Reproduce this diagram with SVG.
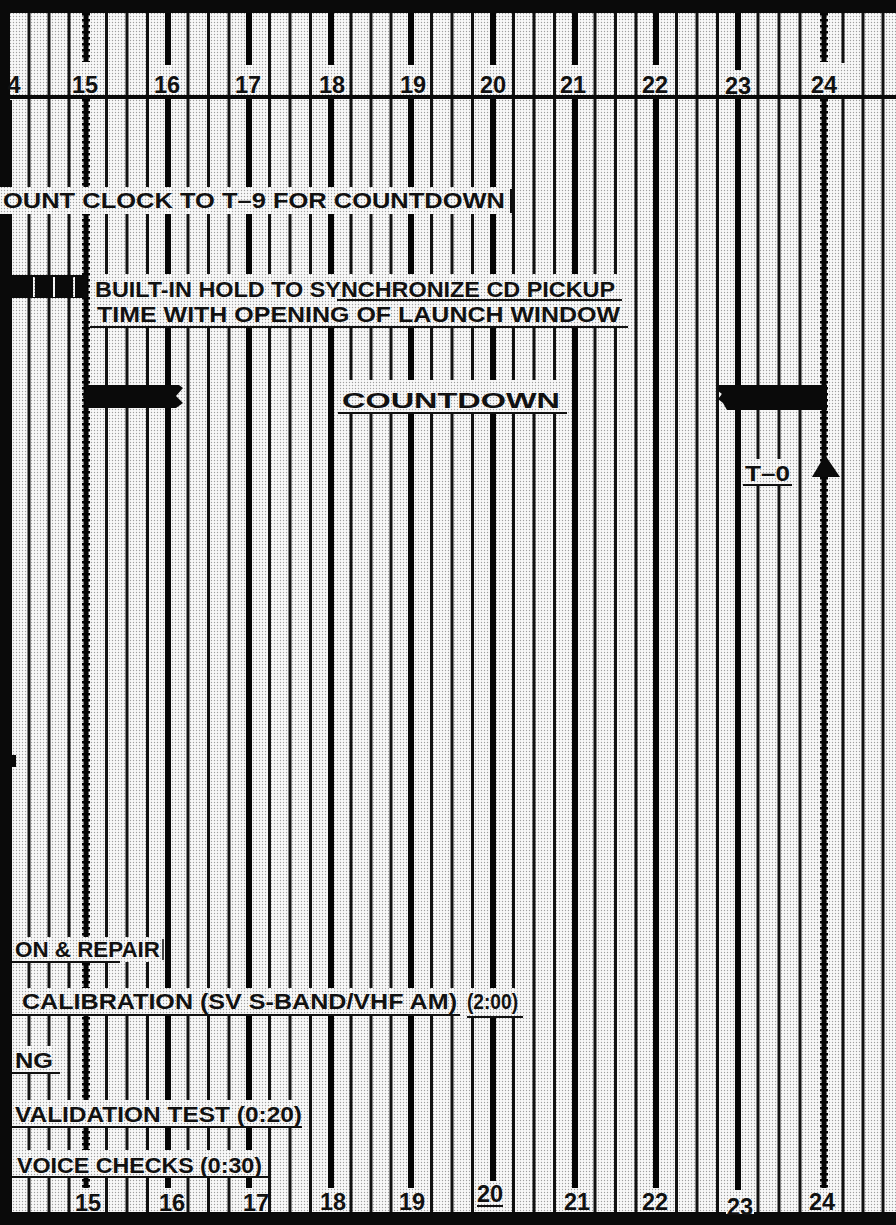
<svg xmlns="http://www.w3.org/2000/svg" width="896" height="1225" viewBox="0 0 896 1225">
<defs>
<pattern id="bg" width="3" height="3" patternUnits="userSpaceOnUse">
<rect width="3" height="3" fill="#f9f9f9"/>
<circle cx="1.5" cy="1.5" r="0.7" fill="#a0a0a0"/>
</pattern>
</defs>
<style>
.thin{stroke:#111;stroke-width:3;fill:none}
.major{stroke:#050505;stroke-width:6;fill:none}
.wavyA{stroke:#050505;stroke-width:5;fill:none}
.wavyB{stroke:#050505;stroke-width:8;stroke-dasharray:2.5 3.5;fill:none}
.box{fill:url(#bg)}
.ul{stroke:#111;stroke-width:2;fill:none}
.t{font-family:"Liberation Sans","DejaVu Sans",Arial,sans-serif;fill:#111;font-size:21.5px;font-weight:bold}
.num{font-family:"Liberation Sans","DejaVu Sans",Arial,sans-serif;fill:#111;font-size:23.5px;font-weight:bold;text-anchor:middle}
.blk{fill:#0a0a0a}
</style>
<rect x="0" y="0" width="896" height="1225" fill="url(#bg)"/>

<g id="grid">
<path class="thin" d="M29 13V95M49 13V95M69 13V95M106.5 13V95M127 13V95M147.5 13V95M188 13V95M208.5 13V95M229 13V95M269.5 13V95M290 13V95M310.5 13V95M351 13V95M371 13V95M391 13V95M431.5 13V95M452 13V95M472.5 13V95M513.5 13V95M534 13V95M554.5 13V95M595 13V95M615.5 13V95M636 13V95M676.5 13V95M697 13V95M717.5 13V95M758 13V95M779 13V95M800 13V95M843 13V63M863 13V95M883 13V95"/>
<path class="thin" d="M29 99V1212M49 99V1212M69 99V1212M106.5 99V1212M127 99V1212M147.5 99V1212M188 99V1212M208.5 99V1212M229 99V1212M269.5 99V1212M290 99V1212M310.5 99V1212M351 99V1212M371 99V1212M391 99V1212M431.5 99V1212M452 99V1212M472.5 99V1212M513.5 99V1212M534 99V1212M554.5 99V1212M595 99V1212M615.5 99V1212M636 99V1212M676.5 99V1212M697 99V1212M717.5 99V1212M758 99V1212M779 99V1212M800 99V1212M843 99V1212M863 99V1212M883 99V1212"/>
<path class="major" d="M168 13V65M249 13V65M331 13V65M411 13V65M493 13V65M575 13V65M656 13V65M738 13V70M168 99V1188M249 99V1188M331 99V1188M411 99V1188M493 99V1185M575 99V1188M656 99V1188M738 99V1190"/>
<path class="wavyA" d="M86 13V62M86 99V1188M824 13V62M824 99V1188"/>
<path class="wavyB" d="M86 13V62M86 99V1188M824 13V62M824 99V1188"/>
<line x1="0" y1="97" x2="896" y2="97" stroke="#0a0a0a" stroke-width="4"/>
</g>

<g id="frame">
<rect class="blk" x="0" y="0" width="896" height="13"/>
<rect class="blk" x="0" y="1212" width="896" height="13"/>
<rect class="blk" x="0" y="0" width="10" height="1225"/>
<rect class="blk" x="0" y="100" width="12" height="1125"/>
<rect class="blk" x="10" y="755" width="6" height="12"/>
</g>

<g id="top-scale">
<text class="num" x="14" y="93">4</text>
<text class="num" x="85" y="93">15</text>
<text class="num" x="167" y="93">16</text>
<text class="num" x="248" y="93">17</text>
<text class="num" x="332" y="93">18</text>
<text class="num" x="413" y="93">19</text>
<text class="num" x="493" y="93">20</text>
<text class="num" x="573" y="93">21</text>
<text class="num" x="655" y="93">22</text>
<text class="num" x="738" y="94">23</text>
<text class="num" x="824" y="93">24</text>
</g>

<g id="count-clock">
<rect class="box" x="0" y="187" width="511" height="27"/>
<line x1="511" y1="189" x2="511" y2="213" stroke="#111" stroke-width="2"/>
<text class="t" x="3" y="208" textLength="502" lengthAdjust="spacingAndGlyphs">OUNT CLOCK TO T–9 FOR COUNTDOWN</text>
</g>

<g id="hold-bar">
<rect class="blk" x="11" y="275" width="76" height="23"/>
<rect class="box" x="33" y="277" width="2" height="20"/>
<rect class="box" x="53" y="277" width="2" height="20"/>
<rect class="box" x="73" y="277" width="2" height="20"/>
</g>

<g id="built-in-hold">
<rect class="box" x="90" y="274" width="535" height="53"/>
<text class="t" x="95" y="297" font-size="23.5" textLength="520" lengthAdjust="spacingAndGlyphs">BUILT-IN HOLD TO SYNCHRONIZE CD PICKUP</text>
<text class="t" x="97" y="322" font-size="23.5" textLength="523" lengthAdjust="spacingAndGlyphs">TIME WITH OPENING OF LAUNCH WINDOW</text>
<line class="ul" x1="337" y1="300" x2="622" y2="300" stroke-width="1.5"/>
<line class="ul" x1="90" y1="327" x2="628" y2="327"/>
</g>

<g id="countdown-start">
<path class="blk" d="M84 385L179 385L183 388L176 396L183 403L176 408L84 408L86 402L83 397L86 391Z"/>
</g>

<g id="countdown">
<rect class="box" x="336" y="380" width="235" height="33"/>
<text class="t" x="342" y="408" font-size="29.5" textLength="218" lengthAdjust="spacingAndGlyphs">COUNTDOWN</text>
<line class="ul" x1="338" y1="413" x2="567" y2="413"/>
</g>

<g id="countdown-end">
<path class="blk" d="M719 385L827 385L827 410L727 410L723 403L718 399L722 394L718 391Z"/>
</g>

<g id="t-zero">
<rect class="box" x="741" y="459" width="52" height="25"/>
<text class="t" x="745" y="481" font-size="24" textLength="45" lengthAdjust="spacingAndGlyphs">T–0</text>
<line class="ul" x1="743" y1="485" x2="792" y2="485"/>
<path class="blk" d="M825 455L840 477L812 477Z"/>
</g>

<g id="inspection-repair">
<rect class="box" x="12" y="937" width="151" height="25"/>
<line x1="163" y1="939" x2="163" y2="960" stroke="#111" stroke-width="1.5"/>
<text class="t" x="15" y="957" textLength="145" lengthAdjust="spacingAndGlyphs">ON &amp; REPAIR</text>
<line class="ul" x1="12" y1="962" x2="120" y2="962"/>
</g>

<g id="calibration">
<rect class="box" x="12" y="988" width="512" height="28"/>
<text class="t" x="22" y="1009" textLength="435" lengthAdjust="spacingAndGlyphs">CALIBRATION  (SV S-BAND/VHF AM)</text>
<text class="t" x="467" y="1009" textLength="51" lengthAdjust="spacingAndGlyphs">(2:00)</text>
<line class="ul" x1="12" y1="1015" x2="460" y2="1015"/>
<line class="ul" x1="467" y1="1017" x2="523" y2="1017"/>
</g>

<g id="ng">
<rect class="box" x="12" y="1046" width="47" height="26"/>
<text class="t" x="15" y="1068" textLength="38" lengthAdjust="spacingAndGlyphs">NG</text>
<line class="ul" x1="12" y1="1073" x2="60" y2="1073"/>
</g>

<g id="validation-test">
<rect class="box" x="12" y="1100" width="292" height="27"/>
<text class="t" x="15" y="1122" font-size="23.5" textLength="287" lengthAdjust="spacingAndGlyphs">VALIDATION TEST (0:20)</text>
<line class="ul" x1="12" y1="1127" x2="302" y2="1127"/>
</g>

<g id="voice-checks">
<rect class="box" x="12" y="1150" width="256" height="27"/>
<text class="t" x="17" y="1173" font-size="24" textLength="245" lengthAdjust="spacingAndGlyphs">VOICE CHECKS (0:30)</text>
<line class="ul" x1="12" y1="1177" x2="268" y2="1177"/>
</g>

<g id="bottom-scale">
<rect class="box" x="76" y="1190" width="24" height="22"/>
<rect class="box" x="160" y="1190" width="24" height="22"/>
<rect class="box" x="244" y="1190" width="24" height="22"/>
<rect class="box" x="321" y="1190" width="24" height="22"/>
<rect class="box" x="400" y="1190" width="24" height="22"/>
<rect class="box" x="476" y="1181" width="28" height="31"/>
<rect class="box" x="565" y="1190" width="24" height="22"/>
<rect class="box" x="642" y="1190" width="27" height="22"/>
<rect class="box" x="726" y="1194" width="28" height="20"/>
<rect class="box" x="809" y="1190" width="27" height="22"/>
<text class="num" x="88" y="1211">15</text>
<text class="num" x="172" y="1211">16</text>
<text class="num" x="256" y="1211">17</text>
<text class="num" x="333" y="1210">18</text>
<text class="num" x="412" y="1210">19</text>
<text class="num" x="490" y="1202">20</text>
<line class="ul" x1="477" y1="1206" x2="503" y2="1206"/>
<text class="num" x="577" y="1210">21</text>
<text class="num" x="655" y="1210">22</text>
<text class="num" x="740" y="1215">23</text>
<text class="num" x="822" y="1210">24</text>
</g>
</svg>
